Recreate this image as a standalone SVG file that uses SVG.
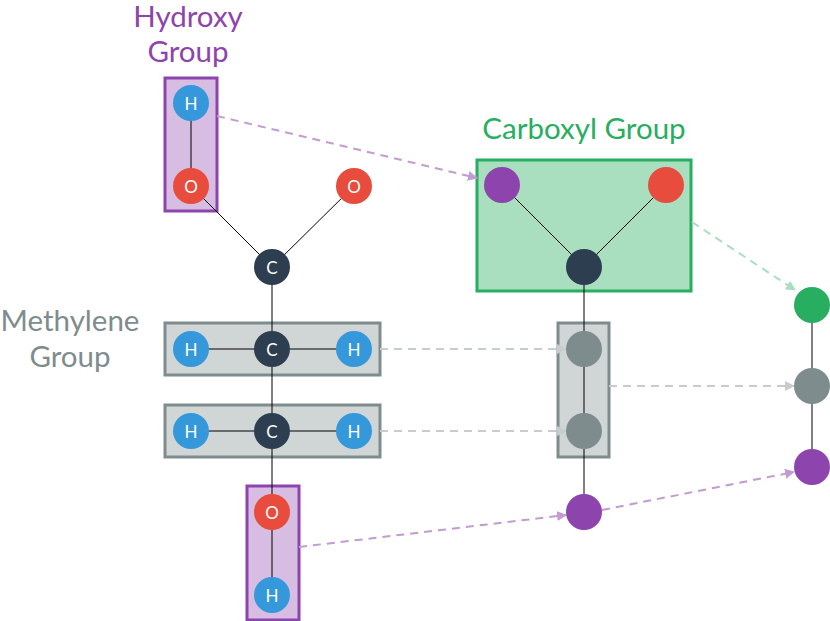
<svg xmlns="http://www.w3.org/2000/svg" width="830" height="621" viewBox="0 0 830 621">
<defs>
<style>
.b{stroke:#000;stroke-width:1}
.t{font-family:Lato,"Liberation Sans",sans-serif;font-size:29.5px;text-anchor:middle}
.a{font-family:Lato,"Liberation Sans",sans-serif;font-size:17px;fill:#fff;text-anchor:middle;dominant-baseline:central}
.d{fill:none;stroke-width:2;stroke-dasharray:8,6}
</style>
<marker id="mp" markerWidth="10" markerHeight="10" refX="9" refY="5" orient="auto" markerUnits="userSpaceOnUse"><path d="M0,0L10,5L0,10z" fill="#c39bd3"/></marker>
<marker id="mg" markerWidth="10" markerHeight="10" refX="9" refY="5" orient="auto" markerUnits="userSpaceOnUse"><path d="M0,0L10,5L0,10z" fill="#c8cccd"/></marker>
<marker id="mn" markerWidth="10" markerHeight="10" refX="9" refY="5" orient="auto" markerUnits="userSpaceOnUse"><path d="M0,0L10,5L0,10z" fill="#a9dfbf"/></marker>
</defs>
<g id="boxes">
<rect x="165" y="78" width="52" height="133" fill="#d7bde2" stroke="#8e44ad" stroke-width="3"/>
<rect x="247" y="486" width="52" height="134" fill="#d7bde2" stroke="#8e44ad" stroke-width="3"/>
<rect x="165" y="323" width="215" height="52" fill="#d0d5d6" stroke="#7f8c8d" stroke-width="3"/>
<rect x="165" y="405" width="215" height="52" fill="#d0d5d6" stroke="#7f8c8d" stroke-width="3"/>
<rect x="477" y="160" width="214" height="131" fill="#a9dfbf" stroke="#27ae60" stroke-width="3"/>
<rect x="558" y="323" width="51" height="134" fill="#d0d5d6" stroke="#7f8c8d" stroke-width="3"/>
</g>
<g id="bonds" class="b">
<line x1="191" y1="103" x2="191" y2="186"/><line x1="191" y1="186" x2="272" y2="267"/><line x1="354" y1="186" x2="272" y2="267"/>
<line x1="272" y1="267" x2="272" y2="595"/><line x1="191" y1="349" x2="354" y2="349"/><line x1="191" y1="431" x2="354" y2="431"/>
<line x1="502" y1="185" x2="584" y2="267"/><line x1="666" y1="185" x2="584" y2="267"/><line x1="584" y1="267" x2="584" y2="530"/>
<line x1="812" y1="305" x2="812" y2="467"/>
</g>
<g id="connectors">
<line class="d" x1="217" y1="116" x2="477" y2="178" stroke="#c39bd3" marker-end="url(#mp)"/>
<line class="d" x1="692" y1="222" x2="795" y2="290" stroke="#a9dfbf" marker-end="url(#mn)"/>
<line class="d" x1="380" y1="349" x2="566" y2="349" stroke="#c8cccd" marker-end="url(#mg)"/>
<line class="d" x1="380" y1="431" x2="566" y2="431" stroke="#c8cccd" marker-end="url(#mg)"/>
<line class="d" x1="609" y1="386" x2="794" y2="386" stroke="#c8cccd" marker-end="url(#mg)"/>
<line class="d" x1="299" y1="547" x2="566" y2="515" stroke="#c39bd3" marker-end="url(#mp)"/>
<line class="d" x1="602" y1="510" x2="794" y2="472" stroke="#c39bd3" marker-end="url(#mp)"/>
</g>
<g id="atoms">
<circle cx="191" cy="103" r="18" fill="#3498db"/><text class="a" x="191" y="103">H</text>
<circle cx="191" cy="186" r="18" fill="#e74c3c"/><text class="a" x="191" y="186">O</text>
<circle cx="354" cy="186" r="18" fill="#e74c3c"/><text class="a" x="354" y="186">O</text>
<circle cx="272" cy="267" r="18" fill="#2c3e50"/><text class="a" x="272" y="267">C</text>
<circle cx="191" cy="349" r="18" fill="#3498db"/><text class="a" x="191" y="349">H</text>
<circle cx="272" cy="349" r="18" fill="#2c3e50"/><text class="a" x="272" y="349">C</text>
<circle cx="354" cy="349" r="18" fill="#3498db"/><text class="a" x="354" y="349">H</text>
<circle cx="191" cy="431" r="18" fill="#3498db"/><text class="a" x="191" y="431">H</text>
<circle cx="272" cy="431" r="18" fill="#2c3e50"/><text class="a" x="272" y="431">C</text>
<circle cx="354" cy="431" r="18" fill="#3498db"/><text class="a" x="354" y="431">H</text>
<circle cx="272" cy="512" r="18" fill="#e74c3c"/><text class="a" x="272" y="512">O</text>
<circle cx="272" cy="595" r="18" fill="#3498db"/><text class="a" x="272" y="595">H</text>
<circle cx="502" cy="185" r="18" fill="#8e44ad"/>
<circle cx="666" cy="185" r="18" fill="#e74c3c"/>
<circle cx="584" cy="267" r="18" fill="#2c3e50"/>
<circle cx="584" cy="349" r="18" fill="#7f8c8d"/>
<circle cx="584" cy="431" r="18" fill="#7f8c8d"/>
<circle cx="584" cy="512" r="18" fill="#8e44ad"/>
<circle cx="812" cy="305" r="18" fill="#27ae60"/>
<circle cx="812" cy="386" r="18" fill="#7f8c8d"/>
<circle cx="812" cy="467" r="18" fill="#8e44ad"/>
</g>
<g id="labels">
<text class="t" x="188" y="27" fill="#8e44ad">Hydroxy</text>
<text class="t" x="188" y="62" fill="#8e44ad">Group</text>
<text class="t" x="70" y="331" fill="#7f8c8d">Methylene</text>
<text class="t" x="70" y="367" fill="#7f8c8d">Group</text>
<text class="t" x="584" y="139" fill="#27ae60">Carboxyl Group</text>
</g>
</svg>
